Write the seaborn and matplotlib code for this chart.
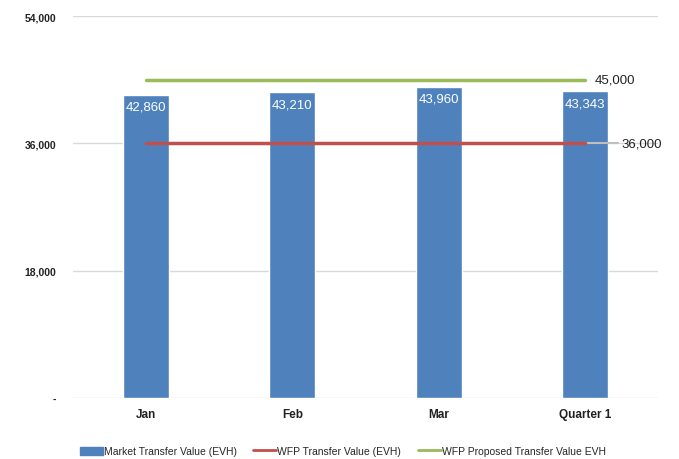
import numpy as np
import pandas as pd
import seaborn as sns
import matplotlib.pyplot as plt
from matplotlib.patches import Patch
from matplotlib.lines import Line2D

categorias = ["Jan", "Feb", "Mar", "Quarter 1"]
market_value = [42860, 43210, 43960, 43343]
wfp_value = [36000, 36000, 36000, 36000]
wfp_proposed = [45000, 45000, 45000, 45000]
yticks = [0, 18000, 36000, 54000]
ytick_labels = ["-", "18,000", "36,000", "54,000"]

azul = "#4F81BD"
vermelho = "#C0504D"
verde = "#9BBB59"

sns.set_theme(style="white")
plt.rcParams['font.family'] = ['Liberation Sans', 'DejaVu Sans']

df = pd.DataFrame({"Mes": categorias, "Valor": market_value})

fig = plt.figure(figsize=(6.79, 4.6), dpi=100)
ax = fig.add_axes([0.1075, 0.1326, 0.8615, 0.8304])

# grade
for y in yticks:
    ax.axhline(y, color="#d9d9d9", lw=1, zorder=0)

sns.barplot(ax=ax, data=df, x="Mes", y="Valor", color=azul, width=0.315,
            saturation=1, zorder=2)

pos = np.arange(len(categorias))
sns.lineplot(ax=ax, x=pos, y=wfp_value, color=vermelho, lw=2.5, zorder=3)
sns.lineplot(ax=ax, x=pos, y=wfp_proposed, color=verde, lw=2.5, zorder=3)

# rotulos nas barras
for i, v in enumerate(market_value):
    ax.text(i, v - 800, f"{v:,}", color="white", ha="center", va="top",
            fontsize=9.5, zorder=4)

# rotulos das linhas
ax.text(pos[-1] + 0.07, wfp_proposed[-1], f"{wfp_proposed[-1]:,}", ha="left",
        va="center", fontsize=9.5, color="#222222")
ax.plot([pos[-1], pos[-1] + 0.23], [wfp_value[-1]] * 2, color="#bfbfbf", lw=1.5, zorder=2.5)
ax.text(pos[-1] + 0.25, wfp_value[-1], f"{wfp_value[-1]:,}", ha="left",
        va="center", fontsize=9.5, color="#222222")

ax.set_xlim(-0.5, 3.5)
ax.set_ylim(0, 54000)
ax.set_yticks(yticks)
ax.set_yticklabels(ytick_labels, fontsize=7.5, fontweight="bold", color="#222222")
ax.set_xticks(pos)
ax.set_xticklabels(categorias, fontsize=8.5, fontweight="bold", color="#222222")
ax.tick_params(axis="y", length=0, pad=12)
ax.tick_params(axis="x", length=0, pad=7)
ax.set_xlabel("")
ax.set_ylabel("")
sns.despine(ax=ax, left=True, bottom=True, top=True, right=True)

handles = [Patch(facecolor=azul, edgecolor=azul),
           Line2D([0], [0], color=vermelho, lw=2),
           Line2D([0], [0], color=verde, lw=2)]
labels = ["Market Transfer Value (EVH)", "WFP Transfer Value (EVH)",
          "WFP Proposed Transfer Value EVH"]
fig.legend(handles, labels, loc="center", bbox_to_anchor=(0.505, 0.017), ncol=3,
           frameon=False, fontsize=7.5, handlelength=2.2, handleheight=0.8,
           columnspacing=1.6, handletextpad=0.1)

fig.savefig("out.png", dpi=100)
